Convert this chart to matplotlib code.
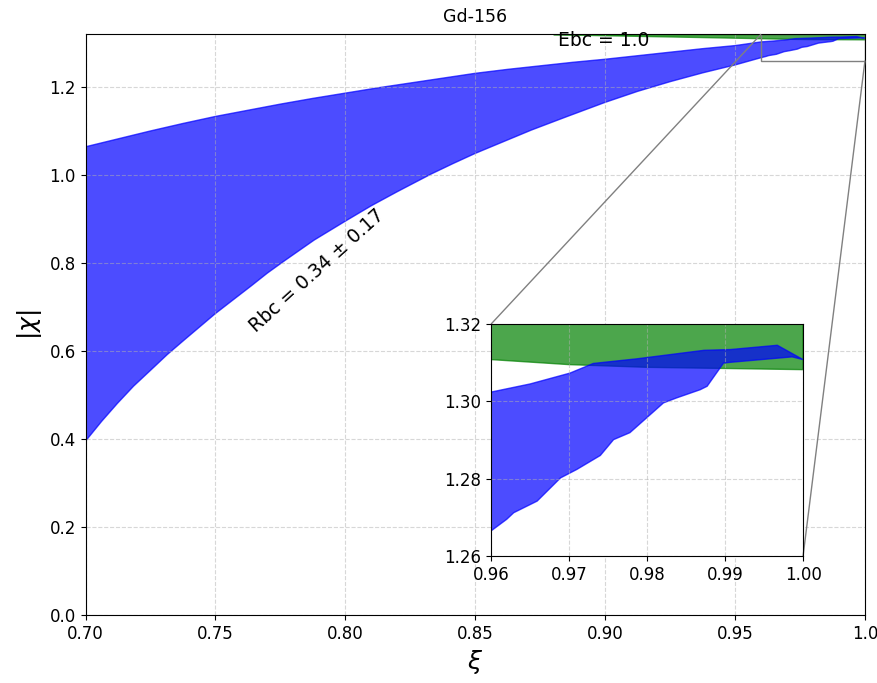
import matplotlib
matplotlib.use("Agg")
import numpy as np
import matplotlib.pyplot as plt
from mpl_toolkits.axes_grid1.inset_locator import mark_inset

# Rbc band (blue), upper and lower edges
xi_upper = [0.70, 0.7125, 0.725, 0.7375, 0.75, 0.7625, 0.775, 0.7875, 0.80, 0.8125,
            0.825, 0.8375, 0.85, 0.8625, 0.875, 0.8875, 0.90, 0.9125, 0.925, 0.9375, 0.95,
            0.96, 0.965, 0.9701, 0.9731, 0.9787, 0.9873, 0.9907, 0.9967, 1.0]
chi_upper = [1.064, 1.082, 1.100, 1.117, 1.133, 1.147, 1.161, 1.174, 1.186, 1.198,
             1.209, 1.220, 1.231, 1.240, 1.248, 1.256, 1.263, 1.271, 1.279, 1.287, 1.294,
             1.3024, 1.3045, 1.3073, 1.3098, 1.3110, 1.3132, 1.3134, 1.3145, 1.3108]

xi_lower = [0.70, 0.7062, 0.7123, 0.7185, 0.7252, 0.7315, 0.738, 0.744, 0.75, 0.757,
            0.7638, 0.770, 0.7766, 0.788, 0.80, 0.81, 0.82, 0.833, 0.8415, 0.85, 0.861,
            0.8716, 0.885, 0.90, 0.9125, 0.925, 0.9375, 0.95,
            0.96, 0.962, 0.9629, 0.9659, 0.9689, 0.971, 0.974, 0.9757, 0.9778, 0.9821,
            0.9838, 0.9868, 0.9877, 0.9898, 0.9907, 0.9986, 1.0]
chi_lower = [0.395, 0.440, 0.481, 0.520, 0.557, 0.592, 0.625, 0.655, 0.685, 0.717,
             0.748, 0.777, 0.805, 0.852, 0.895, 0.930, 0.962, 1.002, 1.026, 1.049, 1.076,
             1.102, 1.132, 1.165, 1.190, 1.212, 1.232, 1.250,
             1.2665, 1.2695, 1.2712, 1.2742, 1.2802, 1.2824, 1.2860, 1.2901, 1.2919, 1.2996,
             1.3009, 1.3030, 1.3039, 1.3099, 1.3101, 1.3115, 1.3108]

# Ebc band (green)
xi_ebc = [0.88, 0.90, 0.93, 0.96, 0.97, 0.98, 0.99, 1.0]
chi_ebc_lo = [1.3199, 1.3175, 1.3142, 1.3108, 1.3095, 1.3088, 1.3085, 1.3082]
chi_ebc_hi = [1.32, 1.32, 1.32, 1.32, 1.32, 1.32, 1.32, 1.32]

main_xticks = [0.70, 0.75, 0.80, 0.85, 0.90, 0.95, 1.0]
main_xlabels = ['0.70', '0.75', '0.80', '0.85', '0.90', '0.95', '1.0']


def draw_bands(ax):
    ax.fill_between(xi_ebc, chi_ebc_lo, chi_ebc_hi, color='green', alpha=0.7)
    ax.fill(np.concatenate([xi_upper, xi_lower[::-1]]),
            np.concatenate([chi_upper, chi_lower[::-1]]),
            color='blue', alpha=0.7)


fig = plt.figure(figsize=(8.77, 6.83), dpi=100)
ax = fig.add_axes([0.0975, 0.0996, 0.8888, 0.8504])

draw_bands(ax)
ax.set_xlim(0.70, 1.0)
ax.set_ylim(0.0, 1.32)
ax.set_xticks(main_xticks)
ax.set_xticklabels(main_xlabels)
ax.set_yticks([0.0, 0.2, 0.4, 0.6, 0.8, 1.0, 1.2])
ax.tick_params(labelsize=12)
ax.grid(True, linestyle='--', alpha=0.5)
ax.set_xlabel(r'$\xi$', fontsize=18)
ax.set_ylabel(r'$|\chi|$', fontsize=18)
ax.set_title('Gd-156', fontsize=12.5, pad=9)

ax.text(0.8817, 1.305, 'Ebc = 1.0', fontsize=13.5, va='center', ha='left')
ax.text(0.789, 0.782, 'Rbc = 0.34 \u00b1 0.17', fontsize=13.5, rotation=42,
        ha='center', va='center')

axins = fig.add_axes([0.560, 0.1859, 0.3557, 0.3397])
draw_bands(axins)
axins.set_xlim(0.96, 1.0)
axins.set_ylim(1.26, 1.32)
axins.set_xticks([0.96, 0.97, 0.98, 0.99, 1.00])
axins.set_yticks([1.26, 1.28, 1.30, 1.32])
axins.tick_params(labelsize=12)
axins.grid(True, linestyle='--', alpha=0.5)

mark_inset(ax, axins, loc1=2, loc2=4, fc='none', ec='0.5')

fig.savefig('out.png', dpi=100)
